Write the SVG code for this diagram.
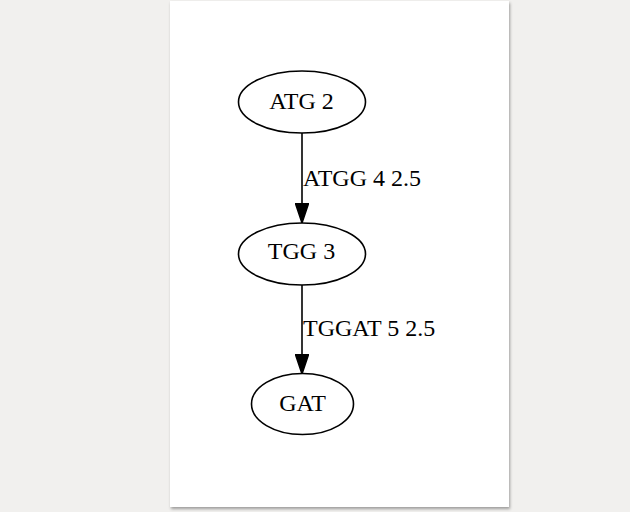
<svg xmlns="http://www.w3.org/2000/svg" width="630" height="512" viewBox="0 0 630 512">
<defs>
<filter id="sh" x="-10%" y="-10%" width="120%" height="120%">
<feDropShadow dx="1" dy="2" stdDeviation="1.6" flood-color="#000" flood-opacity="0.35"/>
</filter>
<marker id="ah" markerWidth="20" markerHeight="14" refX="20" refY="7" orient="auto" markerUnits="userSpaceOnUse">
<path d="M0,0.3 L20,7 L0,13.7 Z" fill="#000" stroke="#000" stroke-width="1.5"/>
</marker>
<style>
.n ellipse{fill:none;stroke:#000;stroke-width:1.6}
text{font-family:"Liberation Serif","Times New Roman",serif;font-size:24px;fill:#000}
.n text{text-anchor:middle}
.e line{stroke:#000;stroke-width:1.6}
</style>
</defs>
<rect width="630" height="512" fill="#f1f0ee"/>
<rect x="170" y="1" width="339" height="506" fill="#fff" filter="url(#sh)"/>
<g id="edges" class="e">
<line x1="302" y1="133" x2="302" y2="223" marker-end="url(#ah)"/>
<text x="303" y="185.5">ATGG 4 2.5</text>
<line x1="302" y1="285" x2="302" y2="374" marker-end="url(#ah)"/>
<text x="303" y="335.5">TGGAT 5 2.5</text>
</g>
<g id="ATG2" class="n">
<ellipse cx="302" cy="102" rx="63.5" ry="31"/>
<text x="301.5" y="109">ATG 2</text>
</g>
<g id="TGG3" class="n">
<ellipse cx="302" cy="254" rx="63.5" ry="31"/>
<text x="301.5" y="259">TGG 3</text>
</g>
<g id="GAT" class="n">
<ellipse cx="302.5" cy="404" rx="51" ry="30.5"/>
<text x="302.5" y="411">GAT</text>
</g>
</svg>
